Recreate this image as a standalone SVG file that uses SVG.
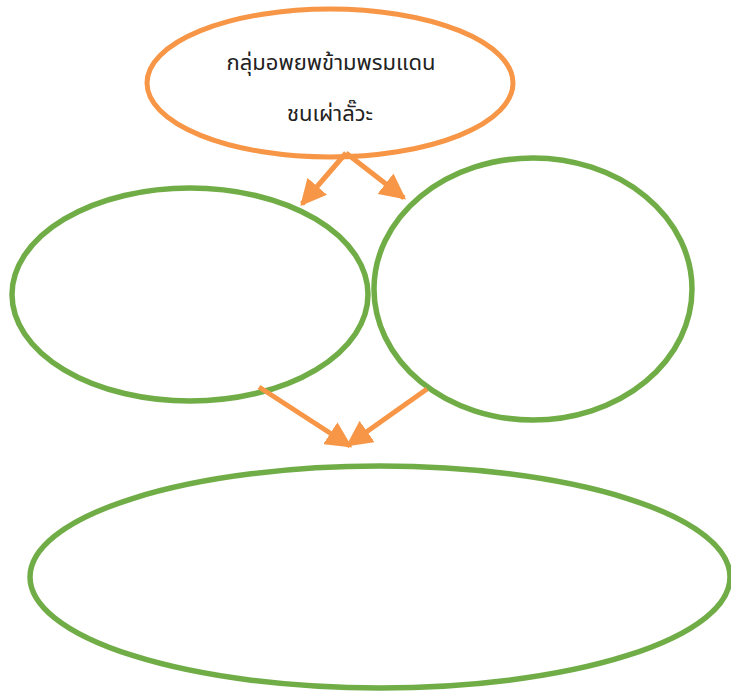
<svg xmlns="http://www.w3.org/2000/svg" width="731" height="692" viewBox="0 0 731 692">
<style>
.o{fill:none;stroke:#F79646;stroke-width:5}
.g{fill:none;stroke:#70AD47;stroke-width:5.5}
.a{fill:none;stroke:#F79646;stroke-width:5}
.t{font-family:"Noto Sans","Noto Sans Thai","DejaVu Sans",sans-serif;font-size:22px;fill:#222;text-anchor:middle}
</style>
<defs>
<marker id="ah" markerUnits="userSpaceOnUse" markerWidth="26" markerHeight="26" refX="18" refY="10" orient="auto" viewBox="0 0 20 20">
<path d="M0,0 L20,10 L0,20 Z" fill="#F79646"/>
</marker>
</defs>
<rect width="731" height="692" fill="#fff"/>
<g id="top">
<ellipse class="o" cx="330" cy="83" rx="183" ry="74"/>
<text class="t" x="331" y="70">กลุ่มอพยพข้ามพรมแดน</text>
<text class="t" x="330" y="121">ชนเผ่าลั๊วะ</text>
</g>
<g id="left"><ellipse class="g" cx="190" cy="294.5" rx="178" ry="106.5"/></g>
<g id="right"><ellipse class="g" cx="533" cy="289" rx="159" ry="131"/></g>
<g id="bottom"><ellipse class="g" cx="380" cy="577" rx="350" ry="111"/></g>
<g id="connectors">
<line class="a" x1="346" y1="153" x2="302" y2="204" marker-end="url(#ah)"/>
<line class="a" x1="346" y1="153" x2="404" y2="198" marker-end="url(#ah)"/>
<line class="a" x1="259" y1="387" x2="350" y2="446" marker-end="url(#ah)"/>
<line class="a" x1="427" y1="389" x2="348" y2="445" marker-end="url(#ah)"/>
</g>
</svg>
